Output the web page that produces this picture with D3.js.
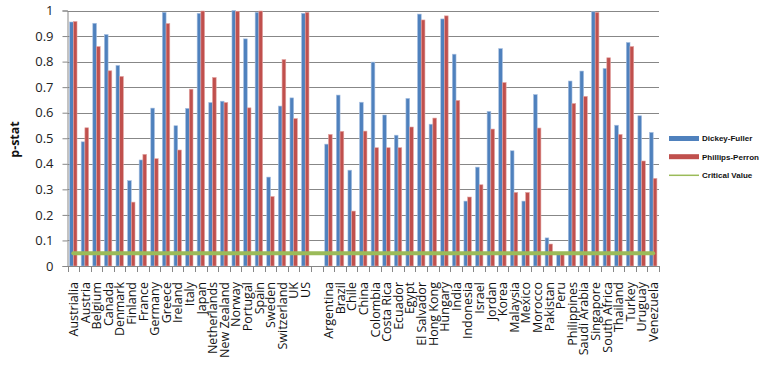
<!DOCTYPE html>
<html>
<head>
<meta charset="utf-8">
<script src="https://cdn.jsdelivr.net/npm/d3@7"></script>
<style>
  body { margin: 0; background: #fff; }
  svg { display: block; }
  .tick-label { font-family: "Open Sans", sans-serif; font-size: 13px; fill: #222; }
  .cat-label { font-family: "Open Sans", sans-serif; font-size: 12.5px; fill: #111; }
  .legend-label { font-family: "Liberation Sans", Arial, sans-serif; font-size: 8px; font-weight: bold; fill: #111; }
</style>
</head>
<body>
<script>
(function() {
    "use strict";

    // country names, with one blank slot splitting the two groups
    var categories = ["Austrialia", "Austria", "Belgium", "Canada", "Denmark", "Finland", "France",
        "Germany", "Greece", "Ireland", "Italy", "Japan", "Netherlands", "New Zealand", "Norway",
        "Portugal", "Spain", "Sweden", "Switzerland", "UK", "US", "",
        "Argentina", "Brazil", "Chile", "China", "Colombia", "Costa Rica", "Ecuador", "Egypt",
        "El Salvador", "Hong Kong", "Hungary", "India", "Indonesia", "Israel", "Jordan", "Korea",
        "Malaysia", "Mexico", "Morocco", "Pakistan", "Peru", "Philippines", "Saudi Arabia",
        "Singapore", "South Africa", "Thailand", "Turkey", "Uruguay", "Venezuela"];

    var dickeyFuller = [0.955, 0.486, 0.950, 0.906, 0.785, 0.334, 0.415,
        0.618, 0.993, 0.549, 0.617, 0.989, 0.640, 0.645, 1.000,
        0.889, 0.993, 0.348, 0.626, 0.658, 0.989, null,
        0.477, 0.669, 0.375, 0.641, 0.798, 0.591, 0.512, 0.656,
        0.986, 0.555, 0.967, 0.829, 0.254, 0.387, 0.605, 0.851,
        0.451, 0.254, 0.671, 0.110, 0.045, 0.724, 0.763,
        0.995, 0.773, 0.551, 0.875, 0.588, 0.523];

    var phillipsPerron = [0.957, 0.541, 0.859, 0.764, 0.742, 0.250, 0.437,
        0.420, 0.949, 0.454, 0.692, 0.998, 0.738, 0.640, 0.997,
        0.619, 0.998, 0.272, 0.808, 0.577, 0.993, null,
        0.515, 0.527, 0.215, 0.528, 0.463, 0.463, 0.463, 0.544,
        0.963, 0.579, 0.979, 0.648, 0.270, 0.318, 0.536, 0.718,
        0.288, 0.288, 0.540, 0.086, 0.048, 0.636, 0.664,
        0.993, 0.815, 0.515, 0.859, 0.411, 0.343];

    var criticalValue = 0.05;
    var yTicks = [0, 0.1, 0.2, 0.3, 0.4, 0.5, 0.6, 0.7, 0.8, 0.9, 1];

    var series = [
        { name: "Dickey-Fuller", values: dickeyFuller, color: "#4F81BD", edge: "#a9c1e2" },
        { name: "Phillips-Perron", values: phillipsPerron, color: "#C0504D", edge: "#e3a5a3" }
    ];

    var w = 763, h = 366;
    var left = 67.5, right = 659, top = 10.5, bottom = 266;

    var svg = d3.select("body").append("svg")
        .attr("width", w)
        .attr("height", h);

    // keys need to be unique, so index them
    var keys = categories.map(function(d, i) { return i; });

    var xScale = d3.scaleBand()
        .domain(keys)
        .range([left, right]);

    var bw = xScale.bandwidth();
    var inner = d3.scaleBand()
        .domain([0, 1])
        .range([bw * 0.18, bw * 0.82]);

    var yScale = d3.scaleLinear()
        .domain([0, 1])
        .range([bottom, top]);

    // gridlines
    svg.selectAll(".grid")
        .data(yTicks.slice(1))
        .enter()
        .append("line")
            .attr("x1", left)
            .attr("x2", right)
            .attr("y1", function(d) { return Math.round(yScale(d)) + 0.5; })
            .attr("y2", function(d) { return Math.round(yScale(d)) + 0.5; })
            .attr("stroke", "#878787")
            .attr("stroke-width", 1);

    // bars (skip the blank slot but keep its position)
    series.forEach(function(s, si) {
        var pts = s.values
            .map(function(v, i) { return { i: i, v: v }; })
            .filter(function(d) { return d.v !== null; });

        svg.selectAll(".bar-" + si)
            .data(pts)
            .enter()
            .append("rect")
                .attr("x", function(d) { return xScale(keys[d.i]) + inner(si); })
                .attr("y", function(d) { return yScale(d.v); })
                .attr("width", inner.bandwidth())
                .attr("height", function(d) { return bottom - yScale(d.v); })
                .attr("fill", s.color)
                .attr("stroke", s.edge)
                .attr("stroke-width", 0.6);
    });

    // axes
    svg.append("g")
        .attr("transform", "translate(" + left + ",0)")
        .call(d3.axisLeft(yScale).tickValues(yTicks).tickSize(5).tickPadding(9)
            .tickFormat(function(d) { return d3.format("")(+d.toFixed(1)); }))
        .call(function(g) {
            g.select(".domain").attr("stroke", "#878787");
            g.selectAll(".tick line").attr("stroke", "#878787");
            g.selectAll(".tick text").attr("class", "tick-label").attr("font-family", null).attr("font-size", null);
        });

    svg.append("line")
        .attr("x1", left).attr("x2", right)
        .attr("y1", bottom + 0.5).attr("y2", bottom + 0.5)
        .attr("stroke", "#878787");

    var bounds = keys.map(function(k) { return xScale(k); }).concat([right]);
    svg.selectAll(".xtick")
        .data(bounds)
        .enter()
        .append("line")
            .attr("x1", function(d) { return Math.round(d) + 0.5; })
            .attr("x2", function(d) { return Math.round(d) + 0.5; })
            .attr("y1", bottom)
            .attr("y2", bottom + 6)
            .attr("stroke", "#878787");

    // category labels, rotated
    svg.selectAll(".cat-label")
        .data(categories)
        .enter()
        .append("text")
            .attr("class", "cat-label")
            .attr("text-anchor", "end")
            .attr("transform", function(d, i) {
                return "translate(" + (xScale(keys[i]) + bw / 2) + "," + (bottom + 16) + ") rotate(-90)";
            })
            .attr("dy", "0.38em")
            .text(function(d) { return d; });

    // critical value line
    svg.append("line")
        .attr("x1", xScale(keys[0]) + bw / 2)
        .attr("x2", xScale(keys[keys.length - 1]) + bw / 2)
        .attr("y1", yScale(criticalValue))
        .attr("y2", yScale(criticalValue))
        .attr("stroke", "#9BBB59")
        .attr("stroke-width", 4)
        .attr("stroke-linecap", "round");

    // y label
    svg.append("text")
        .attr("transform", "translate(19,139.5) rotate(-90)")
        .attr("text-anchor", "middle")
        .attr("font-family", "'Open Sans', sans-serif")
        .attr("font-size", "12.5px")
        .attr("font-weight", "bold")
        .attr("fill", "#111")
        .text("p-stat");

    // legend
    var legend = svg.append("g").attr("transform", "translate(669,0)");
    var legendY = [138.5, 156.7, 175.3];
    series.forEach(function(s, si) {
        legend.append("rect")
            .attr("x", 0).attr("y", legendY[si] - 2.5)
            .attr("width", 30).attr("height", 5)
            .attr("fill", s.color);
        legend.append("text")
            .attr("class", "legend-label")
            .attr("x", 33).attr("y", legendY[si])
            .attr("dy", "0.35em")
            .text(s.name);
    });
    legend.append("line")
        .attr("x1", 0).attr("x2", 30)
        .attr("y1", legendY[2]).attr("y2", legendY[2])
        .attr("stroke", "#9BBB59")
        .attr("stroke-width", 1.5);
    legend.append("text")
        .attr("class", "legend-label")
        .attr("x", 33).attr("y", legendY[2])
        .attr("dy", "0.35em")
        .text("Critical Value");
})();
</script>
</body>
</html>
